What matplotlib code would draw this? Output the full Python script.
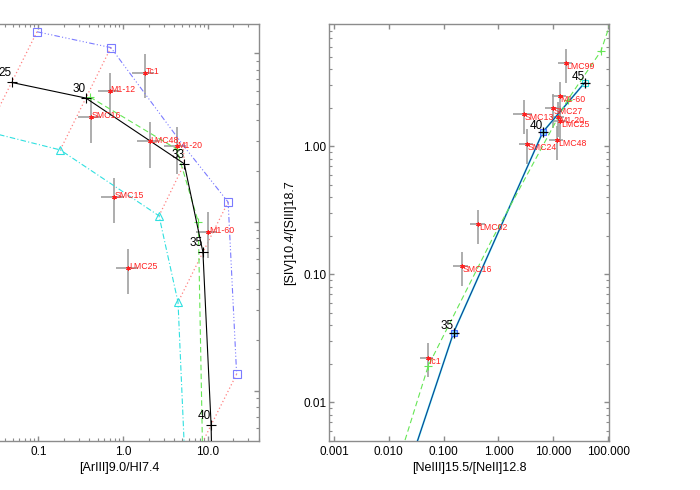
import matplotlib
matplotlib.use('Agg')
import matplotlib.pyplot as plt
from matplotlib.ticker import FormatStrFormatter, NullFormatter, NullLocator, LogLocator

plt.rcParams['font.family'] = ['Liberation Sans', 'DejaVu Sans']

# ---- left panel: model grid ([ArIII]/HI on x) ----
temps_l = [25, 30, 33, 35, 40]
black_lx = [0.0485, 0.364, 5.26, 8.73, 10.9, 11.4]
black_ly = [6.71, 5.42, 2.21, 0.661, 0.0624, 0.02]
blue_lx = [0.0966, 0.717, 5.12, 17.3, 21.8]
blue_ly = [13.4, 10.8, 2.84, 1.31, 0.125]
cyan_lx = [0.0248, 0.1815, 2.65, 4.44, 5.45]
cyan_ly = [3.43, 2.67, 1.086, 0.334, 0.0309]
green_lx = [0.406, 4.28, 7.69, 8.73]
green_ly = [5.50, 2.70, 1.0, 0.0337]

# observed nebulae, left panel
names_l = ['Tc1', 'M1-12', 'SMC16', 'LMC48', 'M1-20', 'SMC15', 'M1-60', 'LMC25']
obs_lx = [1.80, 0.697, 0.417, 2.06, 4.28, 0.79, 10.1, 1.155]
obs_ly = [7.63, 5.94, 4.18, 3.0, 2.80, 1.40, 0.876, 0.531]
err_lx = [0.30, 0.28, 0.30, 0.30, 0.30, 0.30, 0.28, 0.28]
err_ly = [0.29, 0.29, 0.30, 0.30, 0.31, 0.30, 0.30, 0.30]

# ---- right panel: [NeIII]/[NeII] vs [SIV]/[SIII] ----
temps_r = [30, 35, 40, 45]
black_rx = [0.011, 0.152, 6.46, 37.2]
black_ry = [0.0012, 0.035, 1.29, 3.12]
green_rx = [0.01, 0.0524, 0.753, 18.2, 74.0, 200.0]
green_ry = [0.00199, 0.0192, 0.1845, 2.29, 5.52, 19.5]

names_r = ['Tc1', 'SMC16', 'LMC02', 'SMC24', 'SMC13', 'LMC48', 'M1-20',
           'LMC25', 'SMC27', 'M1-60', 'LMC99']
obs_rx = [0.051, 0.213, 0.43, 3.35, 2.98, 11.8, 12.4, 13.4, 10.0, 13.2, 17.1]
obs_ry = [0.0223, 0.1155, 0.245, 1.04, 1.77, 1.11, 1.69, 1.57, 1.98, 2.45, 4.43]
err_rx = [0.27, 0.30, 0.30, 0.28, 0.38, 0.28, 0.28, 0.28, 0.28, 0.28, 0.28]
err_ry = [0.30, 0.30, 0.30, 0.30, 0.30, 0.30, 0.30, 0.30, 0.30, 0.30, 0.30]

W, H = 700, 490
fig = plt.figure(figsize=(W / 100, H / 100), dpi=100)


def px_axes(x0, x1, y0, y1):
    return fig.add_axes([x0 / W, 1 - y1 / H, (x1 - x0) / W, (y1 - y0) / H])


def style(ax):
    ax.set_xscale('log')
    ax.set_yscale('log')
    for s in ax.spines.values():
        s.set_color('#8c8c8c')
        s.set_linewidth(1.0)
    ax.tick_params(which='both', direction='in', top=True, right=True,
                   color='#8c8c8c', labelsize=8.5, pad=4)
    ax.tick_params(which='major', length=3.8, width=1.0)
    ax.tick_params(which='minor', length=2.2, width=0.8)


def observed(ax, xs, ys, ex, ey, names, dy):
    ax.errorbar(xs, ys, xerr=[x * f for x, f in zip(xs, ex)],
                yerr=[y * f for y, f in zip(ys, ey)], fmt='none',
                ecolor='#a0a0a0', elinewidth=1.2, capsize=0, zorder=2)
    ax.plot(xs, ys, ls='none', marker=(6, 2, 0), ms=3.2, mew=0.7,
            color='#ff2020', zorder=5)
    for n, x, y in zip(names, xs, ys):
        ax.annotate(n, (x, y), xytext=(0.5, dy), textcoords='offset points',
                    ha='left', va='center', fontsize=6.3, color='#ff2020', zorder=6)


axL = px_axes(-21, 259, 24, 440.7)
axR = px_axes(329, 609, 24, 440.7)
style(axL)
style(axR)

# left panel
for i in range(len(temps_l)):
    axL.plot([blue_lx[i], black_lx[i], cyan_lx[i]], [blue_ly[i], black_ly[i], cyan_ly[i]],
             color='#ff8080', ls=(0, (1, 2)), lw=0.9, zorder=1)
axL.plot(cyan_lx, cyan_ly, color='#30e0e0', lw=0.8, ls=(0, (5, 2, 1, 2)),
         marker='^', ms=5.5, mfc='none', mew=0.8, zorder=3)
axL.plot(blue_lx, blue_ly, color='#7b7bff', lw=0.8, ls=(0, (5, 2, 1, 2, 1, 2, 1, 2)),
         marker='s', ms=5.5, mfc='none', mew=0.8, markevery=[0, 1, 3, 4], zorder=3)
axL.plot(green_lx, green_ly, color='#66e655', lw=0.8, ls=(0, (5, 3)),
         marker='+', ms=6, mew=0.8, zorder=3)
axL.plot(black_lx, black_ly, color='black', lw=0.8, marker='+', ms=7, mew=0.8, zorder=4)
for t, x, y in zip(temps_l, black_lx, black_ly):
    axL.annotate(str(t), (x, y), xytext=(0, 4.3), textcoords='offset points',
                 ha='right', va='baseline', fontsize=8.5, zorder=7)
observed(axL, obs_lx, obs_ly, err_lx, err_ly, names_l, 1.0)

axL.set_xlim(0.02, 40)
axL.set_ylim(0.0504, 14.9)
axL.xaxis.set_major_formatter(FormatStrFormatter('%.1f'))
axL.xaxis.set_minor_formatter(NullFormatter())
axL.tick_params(axis='y', which='both', labelleft=False)
axL.set_xlabel('[ArIII]9.0/HI7.4', fontsize=9, labelpad=3)

# right panel
axR.plot(black_rx, black_ry, color='#30e0e0', lw=1.3, zorder=3)
axR.plot(black_rx, black_ry, color='#1a1a8a', lw=0.6, zorder=3)
axR.plot(black_rx, black_ry, ls='none', marker='s', ms=5, mfc='#80d8ff',
         mec='#4a6aff', mew=0.8, markevery=[1, 2], zorder=4)
axR.plot(black_rx, black_ry, ls='none', marker='s', ms=5, mfc='none',
         mec='#30e0e0', mew=0.8, markevery=[3], zorder=4)
axR.plot(green_rx, green_ry, color='#66e655', lw=0.8, ls=(0, (5, 3)),
         marker='+', ms=6, mew=0.8, markevery=[1, 3, 4], zorder=3)
axR.plot(black_rx, black_ry, ls='none', marker='+', ms=7, mew=0.9, color='black', zorder=5)
for t, x, y in zip(temps_r[1:], black_rx[1:], black_ry[1:]):
    axR.annotate(str(t), (x, y), xytext=(0, 2.3), textcoords='offset points',
                 ha='right', va='baseline', fontsize=8.5, zorder=7)
observed(axR, obs_rx, obs_ry, err_rx, err_ry, names_r, -2.5)

axR.set_xlim(8.1e-4, 104)
axR.set_ylim(0.005, 9)
axR.xaxis.set_major_locator(LogLocator(base=10, numticks=10))
axR.xaxis.set_minor_locator(NullLocator())
axR.xaxis.set_major_formatter(FormatStrFormatter('%.3f'))
axR.yaxis.set_major_formatter(FormatStrFormatter('%.2f'))
axR.yaxis.set_minor_formatter(NullFormatter())
axR.tick_params(axis='y', which='both', pad=2)
axR.set_xlabel('[NeIII]15.5/[NeII]12.8', fontsize=9, labelpad=3)
axR.set_ylabel('[SIV]10.4/[SIII]18.7', fontsize=9, labelpad=5)

fig.savefig('out.png', dpi=100)
